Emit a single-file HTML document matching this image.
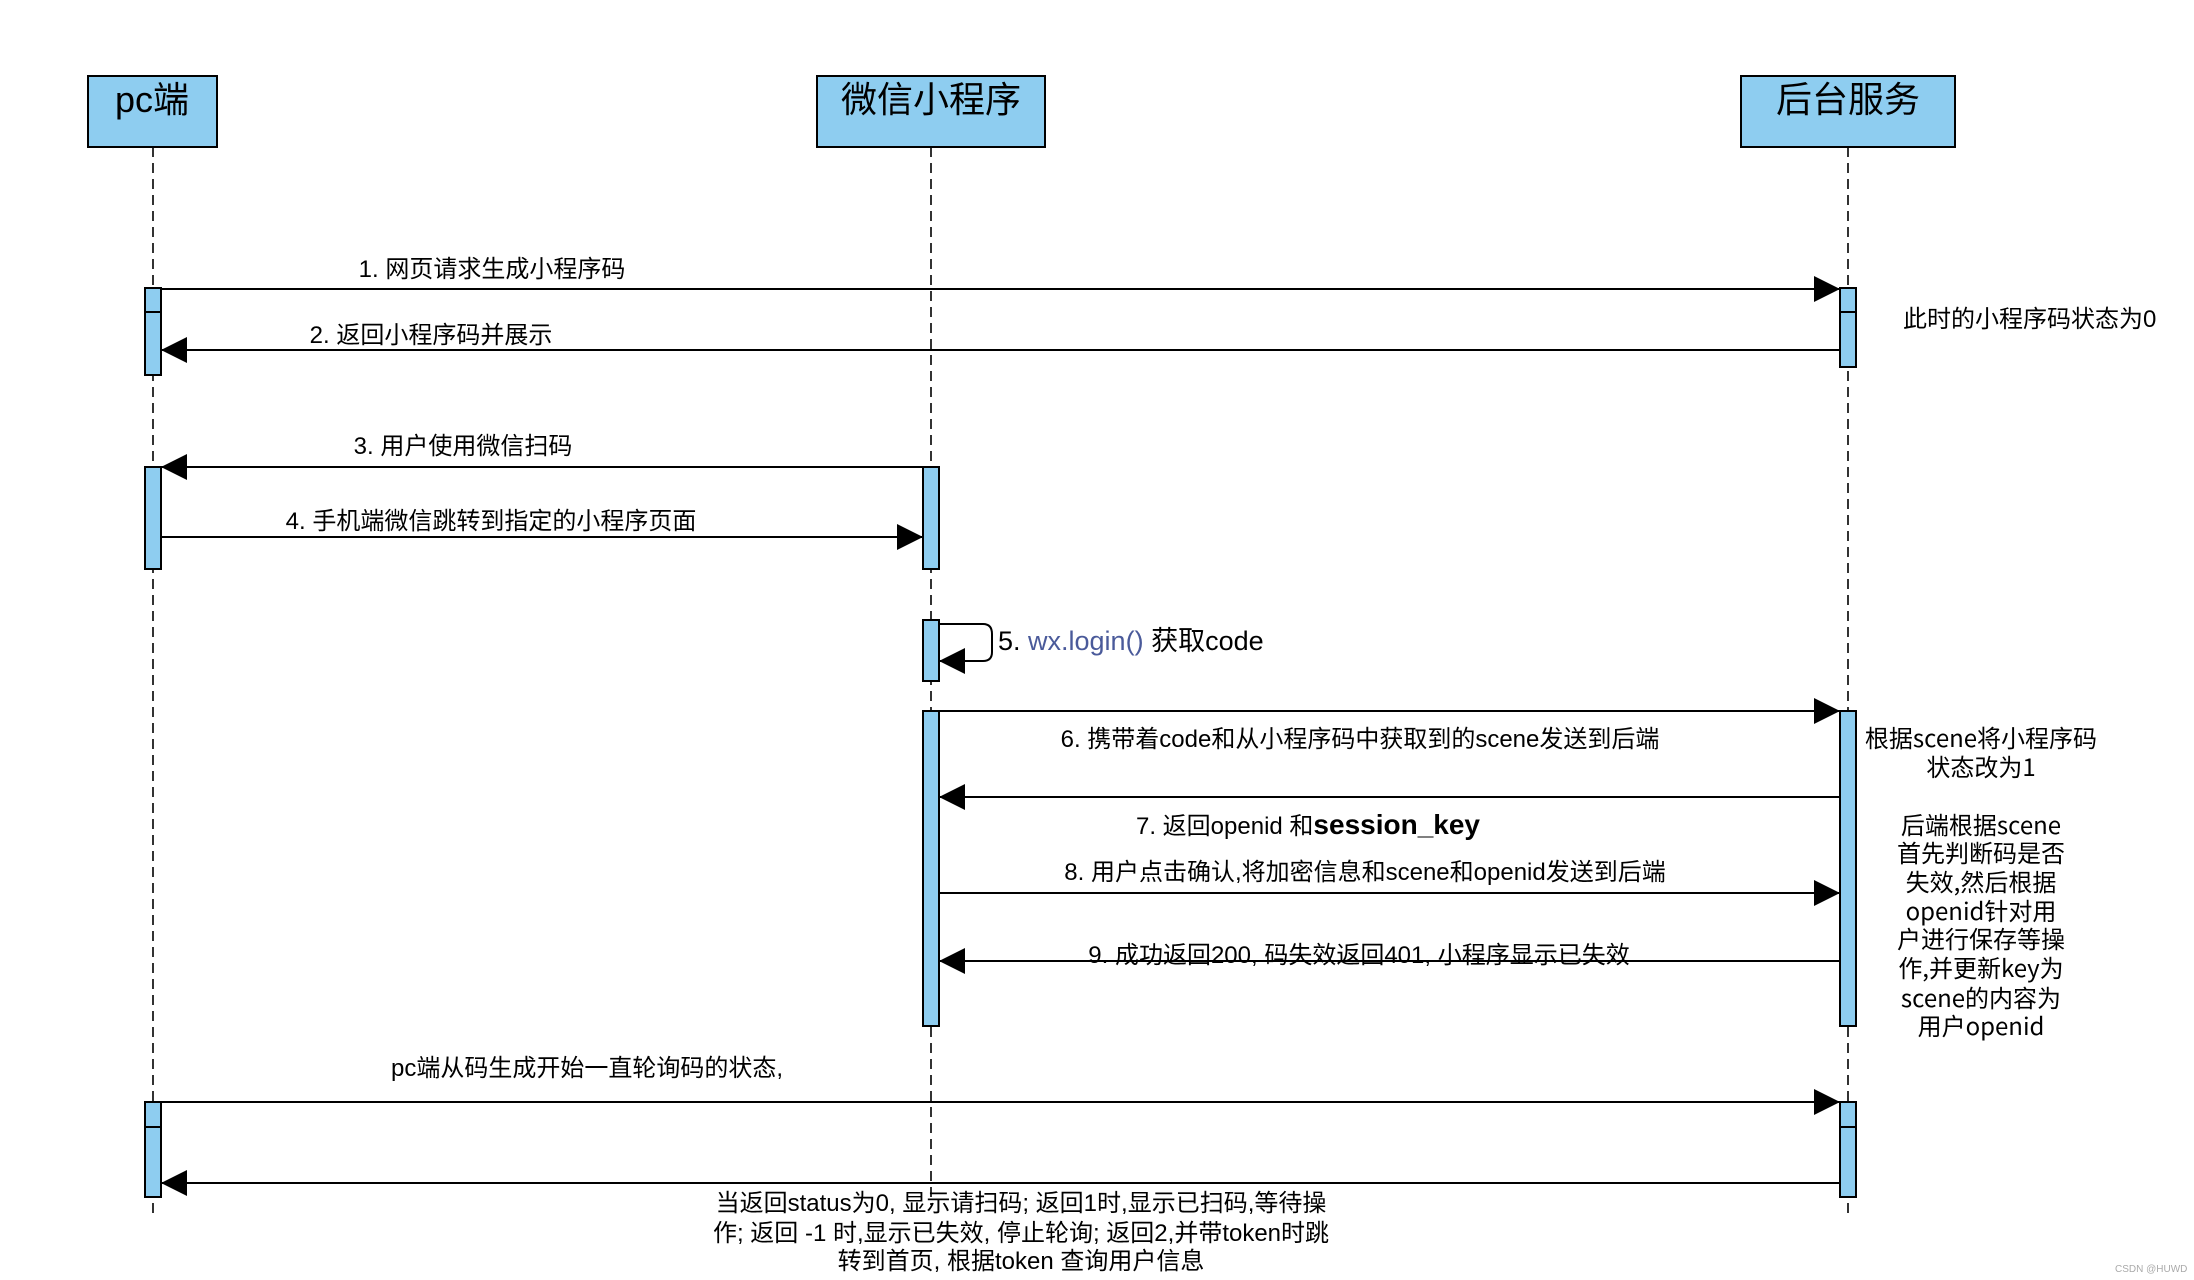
<!DOCTYPE html>
<html><head><meta charset="utf-8"><style>
html,body{margin:0;padding:0;background:#fff;}
svg{display:block;}
text{font-family:"Liberation Sans","Noto Sans CJK SC",sans-serif;fill:#000;}
.n{font-family:"Noto Sans CJK SC","Liberation Sans",sans-serif;}
</style></head><body>
<svg width="2194" height="1280" viewBox="0 0 2194 1280" xmlns="http://www.w3.org/2000/svg">
<defs>
<marker id="a" markerWidth="26" markerHeight="26" refX="26" refY="13" orient="auto" markerUnits="userSpaceOnUse">
<path d="M0,0 L26,13 L0,26 Z" fill="#000"/></marker>
</defs>
<g stroke="#000" stroke-width="1.6" stroke-dasharray="10,6" fill="none">
<line x1="153" y1="147" x2="153" y2="1218"/>
<line x1="931" y1="147" x2="931" y2="1205"/>
<line x1="1848" y1="147" x2="1848" y2="1218"/>
</g>
<g fill="#8ecdf0" stroke="#000" stroke-width="2">
<rect x="88" y="76" width="129" height="71"/>
<rect x="817" y="76" width="228" height="71"/>
<rect x="1741" y="76" width="214" height="71"/>
</g>
<g font-size="36" text-anchor="middle">
<text x="152" y="112">pc端</text>
<text x="931" y="112">微信小程序</text>
<text x="1848" y="112">后台服务</text>
</g>
<g fill="#8ecdf0" stroke="#000" stroke-width="2">
<rect x="145" y="288" width="16" height="87"/>
<line x1="145" y1="312" x2="161" y2="312"/>
<rect x="1840" y="288" width="16" height="79"/>
<line x1="1840" y1="312" x2="1856" y2="312"/>
<rect x="145" y="467" width="16" height="102"/>
<rect x="923" y="467" width="16" height="102"/>
<rect x="923" y="620" width="16" height="61"/>
<rect x="923" y="711" width="16" height="315"/>
<rect x="1840" y="711" width="16" height="315"/>
<rect x="145" y="1102" width="16" height="95"/>
<line x1="145" y1="1127" x2="161" y2="1127"/>
<rect x="1840" y="1102" width="16" height="95"/>
<line x1="1840" y1="1127" x2="1856" y2="1127"/>
</g>
<g stroke="#000" stroke-width="2" fill="none" marker-end="url(#a)">
<line x1="161" y1="289" x2="1840" y2="289"/>
<line x1="1840" y1="350" x2="161" y2="350"/>
<line x1="923" y1="467" x2="161" y2="467"/>
<line x1="161" y1="537" x2="923" y2="537"/>
<path d="M939,624 L983,624 Q992,624 992,634 L992,652 Q992,661 983,661 L939,661"/>
<line x1="939" y1="711" x2="1840" y2="711"/>
<line x1="1840" y1="797" x2="939" y2="797"/>
<line x1="939" y1="893" x2="1840" y2="893"/>
<line x1="1840" y1="961" x2="939" y2="961"/>
<line x1="161" y1="1102" x2="1840" y2="1102"/>
<line x1="1840" y1="1183" x2="161" y2="1183"/>
</g>
<g font-size="24" text-anchor="middle">
<text x="492" y="277">1. 网页请求生成小程序码</text>
<text x="431" y="343">2. 返回小程序码并展示</text>
<text x="463" y="454">3. 用户使用微信扫码</text>
<text x="491" y="529">4. 手机端微信跳转到指定的小程序页面</text>
<text x="1360" y="747">6. 携带着code和从小程序码中获取到的scene发送到后端</text>
<text x="1365" y="880">8. 用户点击确认,将加密信息和scene和openid发送到后端</text>
<text x="1359" y="963">9. 成功返回200, 码失效返回401, 小程序显示已失效</text>
<text x="587" y="1076">pc端从码生成开始一直轮询码的状态,</text>
<text x="1021" y="1211">当返回status为0, 显示请扫码; 返回1时,显示已扫码,等待操</text>
<text x="1021" y="1241">作; 返回 -1 时,显示已失效, 停止轮询; 返回2,并带token时跳</text>
<text x="1021" y="1269">转到首页, 根据token 查询用户信息</text>
</g>
<text x="998" y="650" font-size="27"><tspan>5. </tspan><tspan style="fill:#4a5a9a">wx.login()</tspan><tspan> 获取code</tspan></text>
<text x="1136" y="834" font-size="24">7. 返回openid 和<tspan font-size="28" font-weight="bold">session_key</tspan></text>
<text x="1903" y="327" font-size="24">此时的小程序码状态为0</text>
<g class="n" font-size="24" text-anchor="middle">
<text class="n" x="1981" y="747">根据scene将小程序码</text>
<text class="n" x="1981" y="776">状态改为1</text>
<text class="n" x="1981" y="834">后端根据scene</text>
<text class="n" x="1981" y="862">首先判断码是否</text>
<text class="n" x="1981" y="891">失效,然后根据</text>
<text class="n" x="1981" y="920">openid针对用</text>
<text class="n" x="1981" y="948">户进行保存等操</text>
<text class="n" x="1981" y="977">作,并更新key为</text>
<text class="n" x="1981" y="1007">scene的内容为</text>
<text class="n" x="1981" y="1035">用户openid</text>
</g>
<text x="2115" y="1272" font-size="10" style="fill:#aaa">CSDN @HUWD</text>
</svg>
</body></html>
